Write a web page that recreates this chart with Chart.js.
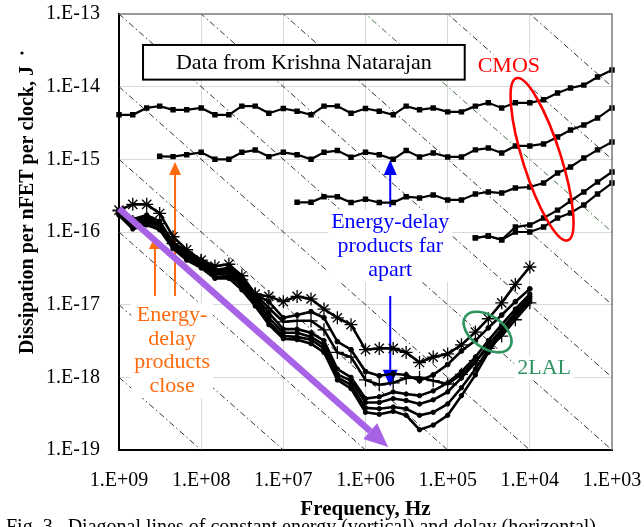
<!DOCTYPE html>
<html>
<head>
<meta charset="utf-8">
<script src="https://cdn.jsdelivr.net/npm/chart.js@4.4.1/dist/chart.umd.min.js"></script>
<style>
html, body { margin: 0; padding: 0; background: #fff; }
#wrap { width: 644px; height: 527px; }
</style>
</head>
<body>
<div id="wrap"><canvas id="grafico" width="644" height="527"></canvas></div>
<script>
// Frequências (Hz), 6 pontos por década, de 1 GHz a 1 kHz
const freq = [
  1e9, 6.8e8, 4.6e8, 3.2e8, 2.2e8, 1.5e8,
  1e8, 6.8e7, 4.6e7, 3.2e7, 2.2e7, 1.5e7,
  1e7, 6.8e6, 4.6e6, 3.2e6, 2.2e6, 1.5e6,
  1e6, 6.8e5, 4.6e5, 3.2e5, 2.2e5, 1.5e5,
  1e5, 6.8e4, 4.6e4, 3.2e4, 2.2e4, 1.5e4,
  1e4, 6.8e3, 4.6e3, 3.2e3, 2.2e3, 1.5e3, 1e3
];

// CMOS (J por ciclo), cada curva começa no índice indicado de freq
const cmos1 = [4.1e-15, 4.1e-15, 5.1e-15, 5.4e-15, 4.8e-15, 4.8e-15, 5.1e-15, 4.1e-15, 4.1e-15, 5.4e-15, 5.4e-15, 4.3e-15, 5.0e-15, 4.6e-15, 4.1e-15, 5.4e-15, 5.4e-15, 4.3e-15, 5.0e-15, 4.6e-15, 4.1e-15, 5.4e-15, 4.8e-15, 5.1e-15, 4.5e-15, 4.5e-15, 5.4e-15, 6.0e-15, 5.1e-15, 6.0e-15, 6.0e-15, 6.6e-15, 8.2e-15, 9.6e-15, 1.05e-14, 1.36e-14, 1.7e-14]; // início 0
const cmos2 = [1.1e-15, 1.09e-15, 1.16e-15, 1.25e-15, 1.0e-15, 1.0e-15, 1.25e-15, 1.34e-15, 1.09e-15, 1.25e-15, 1.16e-15, 1.0e-15, 1.25e-15, 1.32e-15, 1.07e-15, 1.25e-15, 1.16e-15, 1.0e-15, 1.32e-15, 1.08e-15, 1.22e-15, 1.08e-15, 1.08e-15, 1.35e-15, 1.43e-15, 1.22e-15, 1.53e-15, 1.53e-15, 1.63e-15, 2.03e-15, 2.53e-15, 2.97e-15, 3.7e-15, 5.1e-15]; // início 3
const cmos3 = [2.56e-16, 2.56e-16, 3.06e-16, 3.06e-16, 2.54e-16, 2.82e-16, 2.54e-16, 2.54e-16, 3.06e-16, 2.94e-16, 3.23e-16, 2.76e-16, 2.76e-16, 3.34e-16, 3.56e-16, 3.44e-16, 4.04e-16, 4.16e-16, 4.73e-16, 6.5e-16, 7.85e-16, 1.04e-15, 1.35e-15, 1.73e-15]; // início 13
const cmos4 = [8.3e-17, 8.8e-17, 7.8e-17, 1.17e-16, 1.25e-16, 1.56e-16, 2.0e-16, 2.67e-16, 3.56e-16, 4.88e-16, 6.7e-16]; // início 26
const cmos5 = [8.3e-17, 8.8e-17, 7.8e-17, 1.0e-16, 1.0e-16, 1.17e-16, 1.56e-16, 1.83e-16, 2.36e-16, 3.34e-16, 4.72e-16]; // início 26

// 2LAL (J por ciclo), de 1 GHz a 10 kHz (índices 0 a 30)
const lalA = [2.0e-16, 2.4e-16, 2.4e-16, 1.8e-16, 8.6e-17, 5.7e-17, 4.1e-17, 3.4e-17, 3.6e-17, 2.5e-17, 1.4e-17, 1.3e-17, 1.1e-17, 1.3e-17, 1.2e-17, 8.7e-18, 6.6e-18, 5.3e-18, 2.4e-18, 2.5e-18, 2.5e-18, 2.2e-18, 1.6e-18, 1.9e-18, 2.1e-18, 2.8e-18, 4.2e-18, 6.4e-18, 1.06e-17, 1.9e-17, 3.3e-17];
const lalB = [2.0e-16, 1.5e-16, 1.7e-16, 1.4e-16, 7.1e-17, 5.5e-17, 4.1e-17, 3.0e-17, 3.2e-17, 2.4e-17, 1.4e-17, 1.1e-17, 6.6e-18, 7.2e-18, 8.0e-18, 6.6e-18, 3.1e-18, 2.4e-18, 1.2e-18, 1.05e-18, 1.12e-18, 1.08e-18, 9.0e-19, 1.08e-18, 1.5e-18, 2.3e-18, 3.2e-18, 4.8e-18, 7.2e-18, 1.1e-17, 1.65e-17];
const lalC = [1.9e-16, 1.4e-16, 1.5e-16, 1.3e-16, 7.1e-17, 5.0e-17, 3.9e-17, 2.7e-17, 2.9e-17, 2.1e-17, 1.3e-17, 7.7e-18, 4.6e-18, 4.6e-18, 4.1e-18, 3.2e-18, 1.3e-18, 1.0e-18, 5.1e-19, 5.4e-19, 6.3e-19, 5.9e-19, 5.6e-19, 6.5e-19, 8.4e-19, 1.2e-18, 1.9e-18, 3.2e-18, 5.3e-18, 8.7e-18, 1.4e-17];
const lalD = [1.8e-16, 1.3e-16, 1.4e-16, 1.2e-16, 6.7e-17, 4.7e-17, 3.6e-17, 2.6e-17, 2.7e-17, 1.9e-17, 1.2e-17, 6.6e-18, 4.1e-18, 4.1e-18, 3.6e-18, 2.8e-18, 1.1e-18, 9.0e-19, 4.5e-19, 4.5e-19, 5.1e-19, 4.8e-19, 4.3e-19, 4.9e-19, 6.3e-19, 9.8e-19, 1.6e-18, 2.8e-18, 4.6e-18, 7.7e-18, 1.3e-17];
const lalE = [1.75e-16, 1.2e-16, 1.3e-16, 1.1e-16, 6.2e-17, 4.4e-17, 3.4e-17, 2.4e-17, 2.5e-17, 1.8e-17, 1.06e-17, 5.8e-18, 3.7e-18, 3.6e-18, 3.3e-18, 2.5e-18, 1.0e-18, 7.9e-19, 3.8e-19, 3.7e-19, 3.9e-19, 3.7e-19, 3.0e-19, 3.3e-19, 4.3e-19, 7.2e-19, 1.3e-18, 2.4e-18, 4.4e-18, 7.2e-18, 1.2e-17];
const lalF = [1.7e-16, 1.1e-16, 1.25e-16, 1.07e-16, 5.9e-17, 4.1e-17, 3.2e-17, 2.3e-17, 2.3e-17, 1.6e-17, 9.6e-18, 5.3e-18, 3.4e-18, 3.3e-18, 2.9e-18, 2.2e-18, 9.2e-19, 7.0e-19, 3.3e-19, 3.1e-19, 3.4e-19, 3.0e-19, 1.9e-19, 2.2e-19, 3.0e-19, 5.6e-19, 1.08e-18, 2.2e-18, 4.1e-18, 7.0e-18, 1.1e-17];
const lalG = [1.95e-16, 1.4e-16, 1.6e-16, 1.3e-16, 6.9e-17, 5.3e-17, 4.0e-17, 2.9e-17, 3.0e-17, 2.2e-17, 1.4e-17, 9.0e-18, 5.8e-18, 6.0e-18, 6.0e-18, 4.5e-18, 2.2e-18, 1.9e-18, 9.2e-19, 7.9e-19, 8.4e-19, 9.8e-19, 1.0e-18, 9.0e-19, 8.1e-19, 1.1e-18, 1.7e-18, 2.5e-18, 3.7e-18, 6.2e-18, 1.06e-17];

// Produtos energia-atraso constantes (J·s) das diagonais
const produtosED = [1e-17, 1e-18, 1e-19, 1e-20, 1e-21, 1e-22, 1e-23, 1e-24, 1e-25, 1e-26, 1e-27];

// Marcas dos eixos
const xTicks = [1e9, 1e8, 1e7, 1e6, 1e5, 1e4, 1e3];
const xLabels = ['1.E+09', '1.E+08', '1.E+07', '1.E+06', '1.E+05', '1.E+04', '1.E+03'];
const yTicks = [1e-19, 1e-18, 1e-17, 1e-16, 1e-15, 1e-14, 1e-13];
const yLabels = ['1.E-19', '1.E-18', '1.E-17', '1.E-16', '1.E-15', '1.E-14', '1.E-13'];

const serif = "'Liberation Serif', 'Times New Roman', serif";
const laranja = '#ff6a0d', azul = '#0000ff', vermelho = '#ff0000', verde = '#2e9460', roxo = '#a862e6';

function pontos(valores, inicio) {
  return valores.map((v, i) => ({ x: freq[inicio + i], y: v }));
}

// Diagonais tracejadas (ponto-traço)
const diagonais = produtosED.map(c => ({
  data: [{ x: 1e9, y: c * 1e9 }, { x: 1e3, y: c * 1e3 }],
  borderColor: c === 1e-19 ? '#3f6e3f' : '#333333',
  borderWidth: 1,
  borderDash: [6, 3, 1.5, 3],
  pointRadius: 0,
  order: 5
}));

const curvasCmos = [[cmos1, 0], [cmos2, 3], [cmos3, 13], [cmos4, 26], [cmos5, 26]].map(([v, ini]) => ({
  data: pontos(v, ini),
  borderColor: '#000', borderWidth: 2.2,
  pointStyle: 'rect', pointRadius: 2.3, pointBackgroundColor: '#000', pointBorderColor: '#000',
  clip: 8, order: 1
}));

const curvasLal = [
  [lalF, 'circle', 2.2], [lalE, 'circle', 2.2], [lalD, 'circle', 2.2], [lalC, 'circle', 2.2],
  [lalG, 'cross', 6.5], [lalB, 'circle', 2.4], [lalA, 'star', 6.5]
].map(([v, estilo, raio]) => ({
  data: pontos(v, 0),
  borderColor: '#000', borderWidth: 2.6,
  pointStyle: estilo, pointRadius: raio, pointBorderWidth: estilo === 'circle' ? 1 : 1.3,
  pointBackgroundColor: '#000', pointBorderColor: '#000',
  clip: 8, order: 1
}));

function seta(ctx, x0, y0, x1, y1, cor, lw, comp, larg) {
  const ang = Math.atan2(y1 - y0, x1 - x0);
  const bx = x1 - comp * Math.cos(ang), by = y1 - comp * Math.sin(ang);
  ctx.strokeStyle = cor; ctx.lineWidth = lw; ctx.lineCap = 'butt';
  ctx.beginPath(); ctx.moveTo(x0, y0); ctx.lineTo(bx, by); ctx.stroke();
  ctx.fillStyle = cor;
  ctx.beginPath();
  ctx.moveTo(x1, y1);
  ctx.lineTo(bx + larg / 2 * Math.sin(ang), by - larg / 2 * Math.cos(ang));
  ctx.lineTo(bx - larg / 2 * Math.sin(ang), by + larg / 2 * Math.cos(ang));
  ctx.closePath(); ctx.fill();
}

function bloco(ctx, linhas, cx, cy, passo, cor) {
  const larg = Math.max(...linhas.map(l => ctx.measureText(l).width)) + 6;
  ctx.fillStyle = '#fff';
  ctx.fillRect(cx - larg / 2, cy - passo / 2, larg, passo * linhas.length);
  ctx.fillStyle = cor;
  linhas.forEach((l, i) => ctx.fillText(l, cx, cy + i * passo));
}

// Anotações desenhadas com as escalas do gráfico
const notas = {
  id: 'notas',
  beforeDatasetsDraw(chart) {
    const { ctx, scales: { x, y } } = chart;
    const px = v => x.getPixelForValue(v), py = v => y.getPixelForValue(v);
    ctx.save();
    seta(ctx, px(3.65e8), py(1.32e-17), px(3.65e8), py(8.8e-17), laranja, 2, 13, 12);
    seta(ctx, px(2.08e8), py(1.32e-17), px(2.08e8), py(9.2e-16), laranja, 2, 13, 12);
    seta(ctx, px(5e5), py(2.2e-16), px(5e5), py(9.8e-16), azul, 2, 15, 13);
    seta(ctx, px(5e5), py(1.32e-17), px(5e5), py(7.4e-19), azul, 2, 17, 15);
    ctx.restore();
  },
  afterDatasetsDraw(chart) {
    const { ctx, chartArea: a, scales: { x, y } } = chart;
    const px = v => x.getPixelForValue(v), py = v => y.getPixelForValue(v);
    ctx.save();

    // moldura superior e direita
    ctx.strokeStyle = '#808080'; ctx.lineWidth = 1.5;
    ctx.beginPath(); ctx.moveTo(a.left, a.top); ctx.lineTo(a.right, a.top); ctx.lineTo(a.right, a.bottom); ctx.stroke();

    // seta roxa
    seta(ctx, px(1e9), py(2.1e-16), px(5.3e5), py(1.1e-19), roxo, 6.5, 24, 21);

    ctx.font = `22px ${serif}`;
    ctx.textAlign = 'center';
    ctx.textBaseline = 'middle';

    // caixa de texto
    const bx0 = px(5.1e8), bx1 = px(6.2e4), by0 = py(3.75e-14), by1 = py(1.25e-14);
    ctx.fillStyle = '#fff'; ctx.fillRect(bx0, by0, bx1 - bx0, by1 - by0);
    ctx.strokeStyle = '#000'; ctx.lineWidth = 2; ctx.strokeRect(bx0, by0, bx1 - bx0, by1 - by0);
    ctx.fillStyle = '#000';
    ctx.fillText('Data from Krishna Natarajan', (bx0 + bx1) / 2, (by0 + by1) / 2 + 1);

    bloco(ctx, ['CMOS'], px(1.8e4), py(1.9e-14), 24, vermelho);
    bloco(ctx, ['Energy-', 'delay', 'products', 'close'], px(2.26e8), py(7.2e-18), 23.7, laranja);
    bloco(ctx, ['Energy-delay', 'products far', 'apart'], px(5e5), py(1.37e-16), 24, azul);
    bloco(ctx, ['2LAL'], px(6.7e3), py(1.35e-18), 24, verde);

    // elipses
    ctx.lineWidth = 2.6;
    ctx.strokeStyle = vermelho;
    ctx.beginPath(); ctx.ellipse(px(7.1e3), py(1.0e-15), 85, 19, 72.4 * Math.PI / 180, 0, 2 * Math.PI); ctx.stroke();
    ctx.strokeStyle = verde;
    ctx.beginPath(); ctx.ellipse(px(3.27e4), py(4.2e-18), 27, 16, 35 * Math.PI / 180, 0, 2 * Math.PI); ctx.stroke();
    ctx.restore();
  },
  afterDraw(chart) {
    const { ctx, chartArea: a } = chart;
    ctx.save();
    // título do eixo y
    ctx.translate(28, (a.top + a.bottom) / 2 - 22);
    ctx.rotate(-Math.PI / 2);
    ctx.font = `bold 20px ${serif}`;
    ctx.fillStyle = '#000';
    ctx.textAlign = 'center';
    ctx.textBaseline = 'middle';
    ctx.fillText('Dissipation per nFET per clock, J', 0, 0);
    ctx.restore();
    ctx.save();
    ctx.fillStyle = '#000';
    ctx.beginPath(); ctx.arc(22, 53, 1.6, 0, 2 * Math.PI); ctx.fill();
    // legenda da figura (cortada na borda)
    ctx.font = `20px ${serif}`;
    ctx.textAlign = 'left';
    ctx.textBaseline = 'alphabetic';
    ctx.fillText('Fig. 3.  Diagonal lines of constant energy (vertical) and delay (horizontal)', 6, 533);
    ctx.restore();
  }
};

const grafico = new Chart(document.getElementById('grafico'), {
  type: 'line',
  data: { datasets: [...diagonais, ...curvasCmos, ...curvasLal] },
  options: {
    responsive: false,
    animation: false,
    devicePixelRatio: 1,
    layout: { padding: { top: 14, right: 32, left: 0, bottom: 0 } },
    plugins: { legend: { display: false }, tooltip: { enabled: false } },
    scales: {
      x: {
        type: 'logarithmic', reverse: true, min: 1e3, max: 1e9,
        afterBuildTicks: s => { s.ticks = xTicks.map(v => ({ value: v })); },
        afterFit: s => { s.height = 77; s.paddingLeft = 0; s.paddingRight = 0; },
        ticks: { callback: (v, i) => xLabels[i], padding: 19, autoSkip: false, maxRotation: 0, color: '#000', font: { family: serif, size: 20 } },
        grid: { color: '#d9d9d9', drawTicks: false },
        border: { color: '#000', width: 2 },
        title: { display: true, text: 'Frequency, Hz', color: '#000', font: { family: serif, size: 21, weight: 'bold' }, padding: { top: 0, bottom: 5 } }
      },
      y: {
        type: 'logarithmic', min: 1e-19, max: 1e-13,
        afterBuildTicks: s => { s.ticks = yTicks.map(v => ({ value: v })); },
        afterFit: s => { s.width = 119; s.paddingTop = 0; s.paddingBottom = 0; },
        ticks: { callback: (v, i) => yLabels[i], padding: 19, autoSkip: false, color: '#000', font: { family: serif, size: 20 } },
        grid: { color: '#d9d9d9', drawTicks: false },
        border: { color: '#000', width: 2 }
      }
    }
  },
  plugins: [notas]
});
</script>
</body>
</html>
